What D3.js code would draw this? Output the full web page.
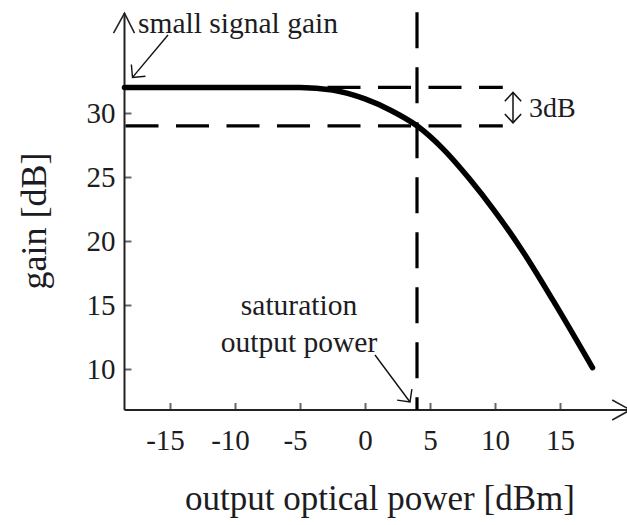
<!DOCTYPE html>
<html>
<head>
<meta charset="utf-8">
<script src="https://cdn.jsdelivr.net/npm/d3@7"></script>
<style>
  html, body { margin: 0; padding: 0; background: #fff; }
  svg { display: block; }
  text { font-family: "Liberation Serif", "Times New Roman", serif; fill: #1c1c22; }
</style>
</head>
<body>
<svg id="chart" width="627" height="525"></svg>
<script>
// Gain saturation curve of an optical amplifier
const powerDbm = [-18.5, -5, -2.5, 0, 2, 4, 6, 8, 10, 12, 14.5, 17.5];
const gainDb   = [32.0, 32.0, 31.8, 31.1, 30.2, 29.0, 27.2, 24.9, 22.3, 19.4, 15.3, 10.1];

const xTicks = [-15, -10, -5, 0, 5, 10, 15];
const yTicks = [10, 15, 20, 25, 30];

const smallSignalGain = 32.0;   // dB
const gainDrop = 3;             // dB
const saturationPower = 4.0;    // dBm

const xExtent = [-18.5, 20.4];
const yExtent = [6.8, 37.8];
const guideEnd = 10.6;          // right end of the gain guide lines, dBm

const svg = d3.select("#chart");

const x = d3.scaleLinear().domain([-15, 15]).range([170, 560]);
const y = d3.scaleLinear().domain([10, 30]).range([369, 113]);

const x0 = x(xExtent[0]), x1 = x(xExtent[1]);
const y0 = y(yExtent[0]), y1 = y(yExtent[1]);

// open V arrowhead with a shaft
function arrow(g, xa, ya, xb, yb, len, ang, width, head2) {
  g.append("line").attr("x1", xa).attr("y1", ya).attr("x2", xb).attr("y2", yb)
    .attr("stroke", "#111").attr("stroke-width", width);
  const heads = [[xa, ya, xb, yb]];
  if (head2) heads.push([xb, yb, xa, ya]);
  heads.forEach(([sx, sy, tx, ty]) => {
    const a = Math.atan2(sy - ty, sx - tx);
    const pts = [a - ang, a + ang].map(t => [tx + len * Math.cos(t), ty + len * Math.sin(t)]);
    g.append("path")
      .attr("d", `M${pts[0][0]},${pts[0][1]}L${tx},${ty}L${pts[1][0]},${pts[1][1]}`)
      .attr("fill", "none").attr("stroke", "#111").attr("stroke-width", width)
      .attr("stroke-linejoin", "miter");
  });
}

const fmt = d => String(d);

// axes with inward ticks
const xAxis = d3.axisBottom(x).tickValues(xTicks).tickSize(0).tickFormat(fmt);
const gx = svg.append("g").attr("transform", `translate(0,${y0})`).call(xAxis);
gx.select(".domain").remove();
gx.selectAll(".tick text")
  .attr("font-size", 29).attr("y", 40).attr("dy", 0)
  .attr("dx", d => d < 0 ? -5 : 0)
  .attr("fill", "#1c1c22").attr("font-family", "Liberation Serif, serif");
gx.selectAll(".tick").append("line")
  .attr("y1", 0).attr("y2", -7).attr("stroke", "#666").attr("stroke-width", 2);

const yAxis = d3.axisLeft(y).tickValues(yTicks).tickSize(0).tickFormat(fmt);
const gy = svg.append("g").attr("transform", `translate(${x0},0)`).call(yAxis);
gy.select(".domain").remove();
gy.selectAll(".tick text")
  .attr("font-size", 29).attr("x", -9).attr("dy", "0.34em")
  .attr("fill", "#1c1c22").attr("font-family", "Liberation Serif, serif");
gy.selectAll(".tick").append("line")
  .attr("x1", 0).attr("x2", 7).attr("stroke", "#666").attr("stroke-width", 2);

const axes = svg.append("g");
axes.append("line").attr("x1", x0).attr("y1", y0).attr("x2", x1).attr("y2", y0)
  .attr("stroke", "#222").attr("stroke-width", 2);
axes.append("line").attr("x1", x0).attr("y1", y0).attr("x2", x0).attr("y2", y1)
  .attr("stroke", "#222").attr("stroke-width", 2);
// axis arrowheads
axes.append("path")
  .attr("d", `M${x0 - 11},${y1 + 20}L${x0},${y1}L${x0 + 10},${y1 + 20}`)
  .attr("fill", "none").attr("stroke", "#222").attr("stroke-width", 1.6);
axes.append("path")
  .attr("d", `M${x1 - 18},${y0 - 10}L${x1},${y0}L${x1 - 18},${y0 + 10}`)
  .attr("fill", "none").attr("stroke", "#222").attr("stroke-width", 1.6);

// dashed guide lines
const guides = svg.append("g").attr("stroke", "#000").attr("stroke-width", 3.2)
  .attr("stroke-dasharray", "33 17.5");
[smallSignalGain, smallSignalGain - gainDrop].forEach(g => {
  guides.append("line")
    .attr("x1", x(xExtent[0]) + 1).attr("x2", x(guideEnd))
    .attr("y1", y(g)).attr("y2", y(g));
});
guides.append("line")
  .attr("x1", x(saturationPower)).attr("x2", x(saturationPower))
  .attr("y1", y(yExtent[1]) - 1).attr("y2", y0)
  .attr("stroke-dasharray", "36 19");

// gain curve
const line = d3.line()
  .x((d, i) => x(powerDbm[i]))
  .y((d, i) => y(gainDb[i]))
  .curve(d3.curveMonotoneX);
svg.append("path")
  .datum(powerDbm)
  .attr("d", line)
  .attr("fill", "none")
  .attr("stroke", "#000")
  .attr("stroke-width", 5.5)
  .attr("stroke-linecap", "round");

// annotations
const ann = svg.append("g");
ann.append("text").attr("x", 138).attr("y", 33).attr("font-size", 29.5)
  .text("small signal gain");
arrow(ann, 168, 35, x(xExtent[0]) + 8, y(smallSignalGain) - 10, 13, Math.PI / 4, 1.4, false);

const yMid = (y(smallSignalGain) + y(smallSignalGain - gainDrop)) / 2;
arrow(ann, 513, y(smallSignalGain) + 5, 513, y(smallSignalGain - gainDrop) - 3, 12, 0.75, 1.5, true);
ann.append("text").attr("x", 529).attr("y", yMid + 10).attr("font-size", 28)
  .text("3dB");

ann.append("text").attr("x", 299).attr("y", 315).attr("font-size", 29.5)
  .attr("text-anchor", "middle").text("saturation");
ann.append("text").attr("x", 299).attr("y", 352).attr("font-size", 29.5)
  .attr("text-anchor", "middle").text("output power");
arrow(ann, 375, 355, x(saturationPower) - 7, y0 - 8, 13, Math.PI / 4, 1.4, false);

// axis titles
svg.append("text")
  .attr("x", 380).attr("y", 510).attr("font-size", 35)
  .attr("text-anchor", "middle").text("output optical power [dBm]");
svg.append("text")
  .attr("transform", "translate(46,221) rotate(-90)")
  .attr("font-size", 36).attr("text-anchor", "middle").text("gain [dB]");
</script>
</body>
</html>
